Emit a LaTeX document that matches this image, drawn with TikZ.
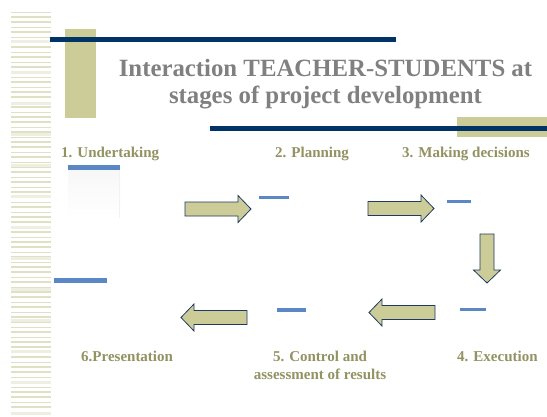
\documentclass[tikz,border=0pt]{standalone}
\usepackage{fontspec}
\setmainfont{Liberation Serif}

\definecolor{navy}{HTML}{003366}
\definecolor{khaki}{HTML}{CCCC99}
\definecolor{olivetext}{HTML}{929262}
\definecolor{steel}{HTML}{5B87C4}
\definecolor{stripe}{HTML}{E0E0C4}
\definecolor{titlegray}{HTML}{808080}
\definecolor{arrowline}{HTML}{1F3A60}

\begin{document}
\begin{tikzpicture}[x=1pt,y=-1pt,
  stage/.style={font=\fontsize{15}{18}\selectfont\bfseries,text=olivetext,inner sep=0pt},
  bar/.style={fill=steel},
  blockarrow/.style={fill=khaki,draw=arrowline,line width=0.8pt,line join=miter}]
  \useasboundingbox[fill=white] (0,0) rectangle (547,416);
  % striped margin on the left
  \foreach \i in {0,...,80} {
    \pgfmathtruncatemacro\k{mod(\i*7,5)}
    \draw[stripe,line width={0.5+0.35*\k}] (11,{12+5*\i}) -- (51,{12+5*\i});
  }
  \foreach \i in {0,...,12}
    \fill[stripe!50] (11,{40+31*\i}) rectangle (51,{43+31*\i});
  % title bars
  \fill[khaki] (65,29) rectangle (96,118);
  \fill[khaki] (457,117) rectangle (547,137);
  \fill[navy] (50,37) rectangle (396,42);
  \fill[navy] (210,126) rectangle (547,131);
  % base of a two-line node sits on its last line
  \node[font=\fontsize{24.8}{27}\selectfont\bfseries,text=titlegray,align=center,
    anchor=base,inner sep=0pt] (title) at (325.5,103)
    {Interaction TEACHER-STUDENTS at\\stages of project development};
  % stages
  \node[stage,anchor=base west] (undertaking) at (61,157) {1. Undertaking};
  \node[stage,anchor=base west] (planning) at (275,157) {2. Planning};
  \node[stage,anchor=base west] (decisions) at (402,157) {3. Making decisions};
  \node[stage,anchor=base west] (execution) at (457,361) {4. Execution};
  \node[stage,anchor=base,align=center] (control) at (320,379)
    {5. Control and\\assessment of results};
  \node[stage,anchor=base west] (presentation) at (81,361) {6.Presentation};
  % blue bars
  \shade[top color=gray!6,bottom color=white] (68,170) rectangle (120,218);
  \draw[gray!10,line width=0.4pt] (119.5,170) -- (119.5,218);
  \fill[bar] (68,165) rectangle (120,170);
  \fill[bar] (259,196) rectangle (289,199);
  \fill[bar] (447,200) rectangle (471,203);
  \fill[bar] (460,308) rectangle (486,311);
  \fill[bar] (277,308) rectangle (306,312);
  \fill[bar] (54,278) rectangle (107,283);
  % block arrows
  \foreach \ax/\ay/\turn/\len in {185/209/0/66, 368/208.5/0/66, 487/234/-90/49,
                                  435/312.5/180/66, 247/317.5/180/66} {
    \begin{scope}[shift={(\ax,\ay)},rotate=\turn]
      \draw[blockarrow] (0,-7) -- ({\len-13},-7) -- ({\len-13},-13.5) -- (\len,0)
        -- ({\len-13},13.5) -- ({\len-13},7) -- (0,7) -- cycle;
    \end{scope}
  }
\end{tikzpicture}
\end{document}
